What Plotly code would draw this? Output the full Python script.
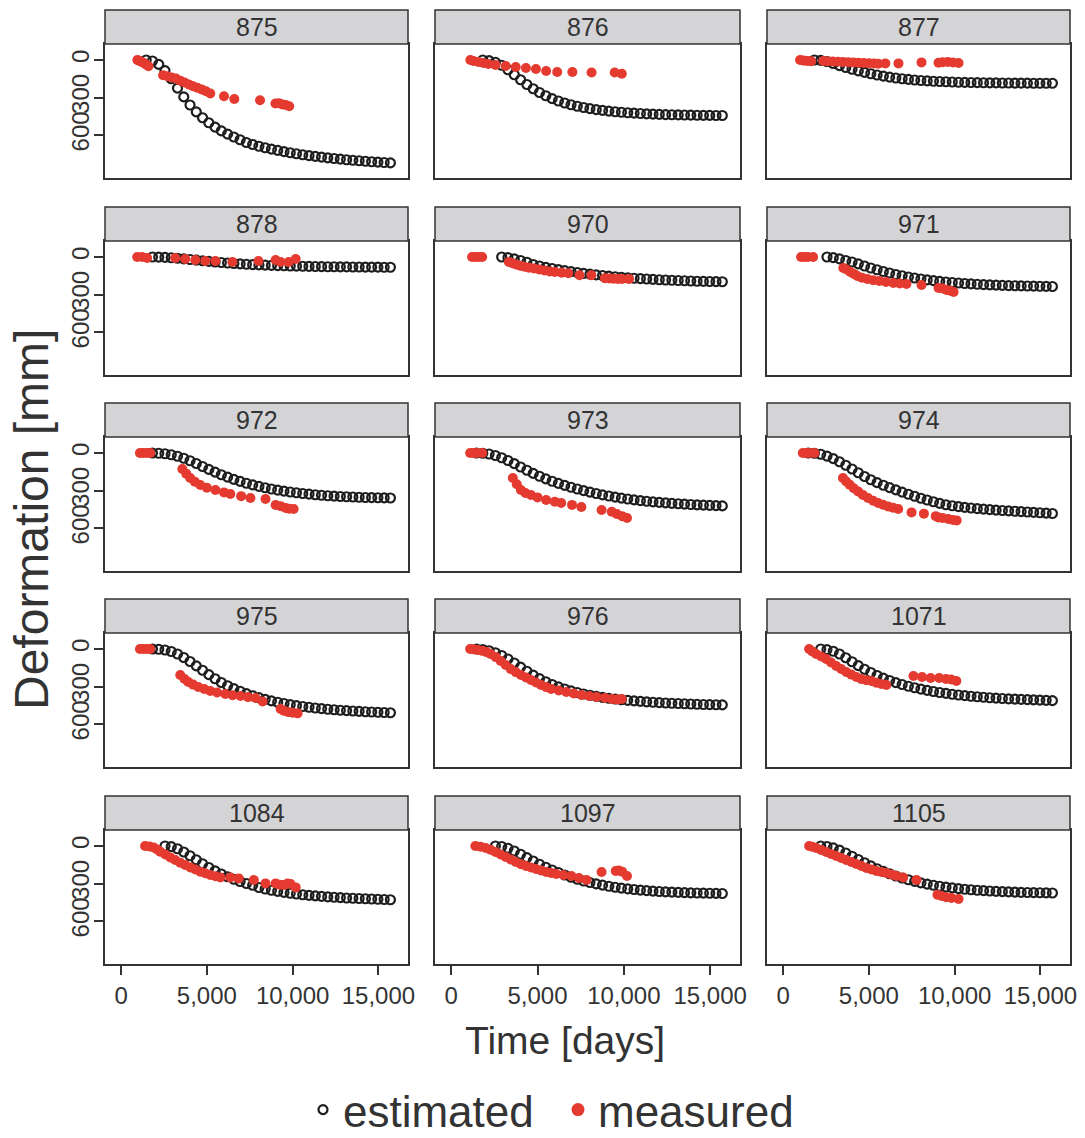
import plotly.graph_objects as go

# ---------------- data ----------------
PANELS = ["875", "876", "877", "878", "970", "971", "972", "973", "974",
          "975", "976", "1071", "1084", "1097", "1105"]

EST_DAYS = [1100, 1465, 1830, 2195, 2560, 2925, 3290, 3655, 4020, 4385, 4750,
            5115, 5480, 5845, 6210, 6575, 6940, 7305, 7670, 8035, 8400, 8765,
            9130, 9495, 9860, 10225, 10590, 10955, 11320, 11685, 12050, 12415,
            12780, 13145, 13510, 13875, 14240, 14605, 14970, 15335, 15700]

EST_875 = [None, 0, 8, 35, 85, 150, 225, 295, 360, 415, 462, 502, 537, 567, 593, 616, 638, 660, 676, 690, 702,
           713, 723, 733, 742, 750, 758, 765, 771, 777, 783, 788, 793, 798, 802, 806, 810, 814, 817, 820, 823]
EST_876 = [None, None, 0, 5, 18, 42, 78, 118, 158, 196, 230, 260, 286, 309, 328, 344, 358, 370, 380, 389, 397,
           403, 409, 414, 418, 422, 425, 428, 431, 433, 435, 437, 438, 439, 440, 441, 442, 443, 443, 444, 444]
EST_877 = [None, None, 0, 3, 12, 28, 45, 60, 74, 87, 99, 110, 120, 129, 137, 144, 150, 155, 160, 164, 167,
           170, 172, 174, 176, 178, 179, 180, 181, 182, 183, 183, 184, 184, 185, 185, 185, 186, 186, 186, 186]
EST_878 = [None, None, 0, 1, 3, 6, 10, 15, 20, 25, 30, 35, 40, 44, 48, 52, 55, 58, 61, 63, 65,
           67, 69, 70, 72, 73, 74, 75, 76, 77, 78, 78, 79, 79, 80, 80, 81, 81, 81, 82, 82]
EST_970 = [None, None, None, None, None, 0, 5, 15, 28, 42, 60, 72, 83, 92, 101, 109, 117, 124, 131, 137, 143,
           148, 153, 158, 162, 166, 170, 173, 176, 179, 182, 184, 186, 188, 190, 192, 194, 195, 196, 197, 198]
EST_971 = [None, None, None, None, 0, 5, 15, 28, 40, 55, 72, 88, 102, 116, 128, 140, 150, 160, 168, 176, 183,
           189, 195, 200, 204, 208, 212, 215, 218, 221, 223, 225, 227, 229, 230, 231, 232, 233, 234, 235, 236]
EST_972 = [None, None, 0, 2, 6, 14, 26, 42, 62, 84, 108, 131, 153, 174, 193, 211, 227, 242, 255, 267, 278,
           288, 297, 305, 312, 318, 324, 329, 334, 338, 342, 345, 348, 350, 352, 354, 356, 357, 358, 359, 360]
EST_973 = [None, 0, 2, 8, 20, 38, 60, 85, 112, 138, 163, 186, 207, 226, 243, 259, 274, 288, 301, 313, 324,
           335, 344, 353, 361, 368, 375, 381, 386, 391, 395, 399, 403, 406, 409, 412, 415, 417, 419, 421, 423]
EST_974 = [None, 0, 2, 10, 25, 45, 70, 98, 128, 158, 188, 214, 237, 258, 277, 295, 313, 330, 346, 362, 376,
           390, 403, 414, 422, 429, 435, 440, 445, 449, 453, 457, 460, 463, 466, 469, 472, 475, 478, 481, 484]
EST_975 = [None, None, 0, 2, 8, 20, 40, 68, 100, 135, 170, 205, 238, 268, 294, 317, 338, 357, 374, 389, 403,
           415, 426, 436, 445, 453, 460, 466, 472, 477, 482, 486, 490, 493, 496, 499, 502, 504, 506, 508, 510]
EST_976 = [None, 0, 4, 14, 30, 52, 80, 112, 145, 178, 209, 237, 262, 284, 303, 320, 335, 348, 360, 370, 379,
           387, 394, 400, 406, 411, 415, 419, 423, 426, 429, 432, 434, 436, 438, 440, 442, 444, 445, 446, 447]
EST_1071 = [None, None, None, 0, 5, 18, 40, 70, 102, 133, 162, 188, 212, 233, 252, 269, 284, 298, 310, 321, 331,
            340, 348, 355, 362, 368, 373, 378, 382, 386, 390, 393, 396, 399, 401, 403, 405, 407, 409, 411, 413]
EST_1084 = [None, None, None, None, 0, 5, 22, 48, 78, 110, 142, 172, 199, 224, 246, 266, 284, 300, 314, 332, 344,
            354, 363, 371, 378, 384, 390, 395, 399, 403, 407, 410, 413, 416, 418, 420, 422, 424, 426, 428, 430]
EST_1097 = [None, None, None, None, 0, 4, 18, 40, 66, 93, 120, 146, 170, 192, 212, 232, 250, 266, 280, 292, 303,
            313, 322, 330, 337, 343, 348, 353, 357, 361, 364, 367, 369, 371, 373, 375, 376, 377, 378, 379, 380]
EST_1105 = [None, None, None, 0, 4, 15, 33, 56, 82, 108, 134, 159, 182, 203, 222, 240, 256, 270, 283, 295, 305,
            314, 322, 329, 335, 341, 346, 350, 354, 357, 360, 363, 365, 367, 369, 371, 372, 373, 374, 375, 376]

MEAS_DAYS_875 = [950, 1050, 1150, 1300, 1450, 1600, 2450, 2700, 2950, 3200, 3450, 3700, 3950, 4200, 4450,
                 4700, 4950, 5200, 6000, 6600, 8100, 9000, 9200, 9400, 9600, 9800]
MEAS_875 = [0, 5, 12, 22, 35, 50, 122, 130, 140, 148, 165, 180, 195, 210, 222,
            235, 250, 268, 290, 312, 322, 348, 345, 355, 360, 370]
MEAS_DAYS_876 = [1110, 1290, 1580, 1870, 2160, 2570, 3160, 3740, 4330, 4910, 5500, 6140, 7020, 8130, 9470, 9880]
MEAS_876 = [0, 8, 16, 24, 32, 40, 48, 56, 64, 72, 88, 96, 96, 100, 100, 110]
MEAS_DAYS_877 = [990, 1150, 1300, 1450, 1640, 2340, 2600, 2900, 3200, 3500, 3800, 4100, 4400, 4700, 5000,
                 5300, 5550, 5960, 6725, 8070, 9060, 9300, 9600, 9900, 10230]
MEAS_877 = [0, 3, 5, 8, 10, 8, 10, 12, 14, 16, 18, 20, 22, 24, 26,
            28, 30, 27, 27, 19, 22, 18, 16, 20, 24]
MEAS_DAYS_878 = [940, 1230, 1520, 3160, 3740, 4330, 4910, 5500, 6490, 8010, 9010, 9300, 9770, 10180]
MEAS_878 = [0, 0, 8, 8, 16, 24, 32, 32, 40, 32, 24, 40, 40, 16]
MEAS_DAYS_970 = [1210, 1400, 1600, 1795, 3340, 3550, 3750, 4000, 4250, 4500, 4800, 5100, 5400, 5700, 6000,
                 6400, 6780, 7430, 8120, 8900, 9150, 9400, 9650, 9900, 10300]
MEAS_970 = [0, 0, 0, 0, 40, 50, 60, 70, 78, 85, 92, 100, 108, 115, 120,
            125, 130, 146, 146, 170, 172, 174, 175, 176, 175]
MEAS_DAYS_971 = [1050, 1250, 1450, 1750, 3510, 3700, 3920, 4130, 4330, 4600, 4910, 5250, 5610, 6000, 6430,
                 6800, 7190, 8070, 9060, 9300, 9530, 9750, 9940]
MEAS_971 = [0, 0, 0, 0, 88, 100, 120, 135, 152, 165, 176, 185, 192, 200, 208,
            212, 216, 224, 248, 252, 264, 270, 280]
MEAS_DAYS_972 = [1100, 1300, 1500, 1700, 3570, 3800, 4030, 4300, 4620, 5000, 5500, 6000, 6370, 7000, 7540,
                 8420, 9010, 9300, 9590, 9800, 10060]
MEAS_972 = [0, 0, 0, 0, 128, 165, 200, 230, 256, 278, 296, 315, 328, 345, 360,
            368, 416, 425, 440, 445, 448]
MEAS_DAYS_973 = [1100, 1300, 1500, 1800, 3570, 3800, 4040, 4300, 4620, 5000, 5500, 6000, 6370, 7000, 7540,
                 8710, 9300, 9590, 9900, 10180]
MEAS_973 = [0, 0, 0, 0, 200, 250, 296, 320, 336, 355, 376, 390, 400, 415, 432,
            456, 470, 488, 505, 520]
MEAS_DAYS_974 = [1150, 1350, 1550, 1830, 3490, 3680, 3880, 4120, 4370, 4650, 4950, 5250, 5540, 5830, 6120,
                 6410, 6710, 7490, 8210, 8900, 9050, 9300, 9630, 9900, 10120]
MEAS_974 = [0, 0, 0, 0, 200, 228, 253, 282, 307, 335, 360, 382, 400, 414, 427,
            438, 448, 475, 485, 505, 515, 520, 528, 535, 539]
MEAS_DAYS_975 = [1100, 1300, 1500, 1700, 3450, 3700, 3920, 4200, 4500, 4850, 5200, 5600, 6080, 6500, 6960,
                 7400, 7840, 8250, 9300, 9500, 9750, 10000, 10290]
MEAS_975 = [0, 0, 0, 0, 208, 240, 264, 285, 304, 320, 336, 348, 360, 370, 376,
            385, 392, 420, 480, 495, 505, 510, 515]
MEAS_DAYS_976 = [1100, 1300, 1550, 1800, 2050, 2280, 2580, 2870, 3160, 3450, 3740, 4040, 4330, 4620, 4910,
                 5200, 5500, 5790, 6230, 6670, 7100, 7540, 8000, 8420, 8900, 9300, 9600, 9880]
MEAS_976 = [0, 3, 8, 15, 25, 40, 65, 96, 128, 160, 185, 208, 228, 248, 268,
            288, 305, 320, 332, 344, 356, 368, 376, 384, 392, 400, 405, 400]
MEAS_DAYS_1071 = [1520, 1700, 1930, 2220, 2510, 2800, 3100, 3390, 3680, 3980, 4270, 4560, 4850, 5150, 5440,
                  5730, 6020, 7600, 8100, 8600, 9100, 9500, 9800, 10100]
MEAS_1071 = [0, 20, 40, 60, 80, 108, 136, 160, 184, 205, 224, 240, 250, 256, 270,
             280, 288, 216, 224, 232, 232, 240, 244, 256]
MEAS_DAYS_1084 = [1400, 1650, 1890, 2100, 2280, 2580, 2870, 3160, 3450, 3740, 4040, 4330, 4620, 4910, 5200,
                  5500, 5790, 6370, 6860, 7740, 8420, 9010, 9250, 9490, 9700, 9880, 10180]
MEAS_1084 = [0, 3, 11, 28, 45, 68, 91, 112, 133, 152, 171, 188, 205, 218, 232,
             242, 251, 251, 259, 272, 299, 299, 310, 312, 300, 304, 331]
MEAS_DAYS_1097 = [1400, 1700, 2000, 2280, 2570, 2870, 3160, 3450, 3740, 4040, 4330, 4620, 4910, 5200, 5500,
                  5790, 6080, 6500, 6960, 7400, 7840, 8710, 9530, 9700, 9900, 10180]
MEAS_1097 = [0, 5, 16, 30, 48, 68, 88, 108, 128, 145, 160, 172, 184, 196, 208,
             216, 224, 232, 240, 256, 272, 208, 200, 195, 205, 240]
MEAS_DAYS_1105 = [1520, 1700, 1930, 2220, 2510, 2800, 3100, 3390, 3680, 3980, 4270, 4560, 4850, 5150, 5440,
                  5730, 6020, 6320, 6610, 7000, 7780, 9000, 9240, 9500, 9820, 10230]
MEAS_1105 = [0, 5, 16, 32, 48, 64, 80, 96, 112, 128, 144, 160, 176, 188, 200,
             208, 216, 228, 240, 252, 272, 390, 400, 410, 416, 424]

X_TICKS = [0, 5000, 10000, 15000]
X_TICK_LABELS = ["0", "5,000", "10,000", "15,000"]
Y_TICKS = [0, 300, 600]
Y_TICK_LABELS = ["0", "300", "600"]

EST = [EST_875, EST_876, EST_877, EST_878, EST_970, EST_971, EST_972, EST_973, EST_974,
       EST_975, EST_976, EST_1071, EST_1084, EST_1097, EST_1105]
MEAS_DAYS = [MEAS_DAYS_875, MEAS_DAYS_876, MEAS_DAYS_877, MEAS_DAYS_878, MEAS_DAYS_970, MEAS_DAYS_971,
             MEAS_DAYS_972, MEAS_DAYS_973, MEAS_DAYS_974, MEAS_DAYS_975, MEAS_DAYS_976, MEAS_DAYS_1071,
             MEAS_DAYS_1084, MEAS_DAYS_1097, MEAS_DAYS_1105]
MEAS = [MEAS_875, MEAS_876, MEAS_877, MEAS_878, MEAS_970, MEAS_971, MEAS_972, MEAS_973, MEAS_974,
        MEAS_975, MEAS_976, MEAS_1071, MEAS_1084, MEAS_1097, MEAS_1105]

# ---------------- layout geometry (page pixels; body margin removed) ----------------
W, H = 1085, 1138
COL_X = [(105, 408), (435, 740), (767, 1070)]
ROW_Y = [(44, 178), (241, 375), (437, 571), (633, 767), (830, 964)]
STRIP_H = 34
X_RANGE = [-936, 16725]
Y_RANGE = [944, -128]


def px(x):
    return x / W


def py(y):
    return 1 - y / H


FONT = "Liberation Sans, Arial, Helvetica, sans-serif"
TXT = "#333333"
LINE = "#333333"
RED = "#e53a30"
BLACK = "#1e1e1e"

fig = go.Figure()
shapes = []
annotations = []
layout_axes = {}

for i, name in enumerate(PANELS):
    r, c = divmod(i, 3)
    k = i + 1
    xs = "" if k == 1 else str(k)
    x0, x1 = COL_X[c]
    y0, y1 = ROW_Y[r]

    fig.add_trace(go.Scatter(
        x=EST_DAYS, y=EST[i], mode="markers", xaxis="x" + xs, yaxis="y" + xs,
        marker=dict(symbol="circle-open", size=9, color=BLACK, line=dict(width=2.2, color=BLACK)),
        showlegend=False, hoverinfo="skip"))
    fig.add_trace(go.Scatter(
        x=MEAS_DAYS[i], y=MEAS[i], mode="markers", xaxis="x" + xs, yaxis="y" + xs,
        marker=dict(symbol="circle", size=10, color=RED),
        showlegend=False, hoverinfo="skip"))

    layout_axes["xaxis" + xs] = dict(
        domain=[px(x0), px(x1)], range=X_RANGE, anchor="y" + xs,
        showline=True, mirror=True, linecolor=LINE, linewidth=1.5,
        showgrid=False, zeroline=False,
        ticks="outside" if r == 4 else "", ticklen=9, tickwidth=1.5, tickcolor=LINE,
        tickvals=X_TICKS, ticktext=X_TICK_LABELS, showticklabels=(r == 4),
        ticklabeloverflow="allow",
        tickfont=dict(family=FONT, size=24, color=TXT), automargin=False)
    layout_axes["yaxis" + xs] = dict(
        domain=[py(y1), py(y0)], range=Y_RANGE, anchor="x" + xs,
        showline=True, mirror=True, linecolor=LINE, linewidth=1.5,
        showgrid=False, zeroline=False,
        ticks="outside" if c == 0 else "", ticklen=9, tickwidth=1.5, tickcolor=LINE,
        tickvals=Y_TICKS, ticktext=Y_TICK_LABELS, showticklabels=(c == 0), tickangle=-90,
        ticklabeloverflow="allow", ticklabelstandoff=-4,
        tickfont=dict(family=FONT, size=24, color=TXT), automargin=False)

    # strip
    shapes.append(dict(type="rect", xref="paper", yref="paper",
                       x0=px(x0), x1=px(x1), y0=py(y0), y1=py(y0 - STRIP_H),
                       fillcolor="#d4d4d7", line=dict(color=LINE, width=1.5), layer="above"))
    annotations.append(dict(text=name, xref="paper", yref="paper",
                            x=px((x0 + x1) / 2), y=py(y0 - STRIP_H / 2),
                            showarrow=False, xanchor="center", yanchor="middle",
                            font=dict(family=FONT, size=25, color=TXT)))

# legend-only traces
fig.add_trace(go.Scatter(x=[None], y=[None], mode="markers", name="estimated", legend="legend",
                         marker=dict(symbol="circle-open", size=9, color=BLACK, line=dict(width=2.2, color=BLACK))))
fig.add_trace(go.Scatter(x=[None], y=[None], mode="markers", name="measured", legend="legend2",
                         marker=dict(symbol="circle", size=13, color=RED)))

annotations.append(dict(text="Time [days]", xref="paper", yref="paper", x=px(565), y=py(1040),
                        showarrow=False, xanchor="center", yanchor="middle",
                        font=dict(family=FONT, size=39, color=TXT)))
annotations.append(dict(text="Deformation [mm]", xref="paper", yref="paper", x=px(31), y=py(520),
                        showarrow=False, xanchor="center", yanchor="middle", textangle=-90,
                        font=dict(family=FONT, size=48, color=TXT)))

LEG_FONT = dict(family=FONT, size=44, color=TXT)
fig.update_layout(
    width=W, height=H, margin=dict(l=0, r=0, t=0, b=0, autoexpand=False),
    paper_bgcolor="white", plot_bgcolor="white",
    shapes=shapes, annotations=annotations,
    legend=dict(orientation="h", x=px(323 - 20), xanchor="left", y=py(1110), yanchor="middle",
                font=LEG_FONT, bgcolor="rgba(0,0,0,0)"),
    legend2=dict(orientation="h", x=px(578 - 20), xanchor="left", y=py(1110), yanchor="middle",
                 font=LEG_FONT, bgcolor="rgba(0,0,0,0)"),
    **layout_axes)

fig.write_html("out.html", config={"displayModeBar": False},
               post_script="document.body.style.margin='0';document.body.style.overflow='hidden';")
